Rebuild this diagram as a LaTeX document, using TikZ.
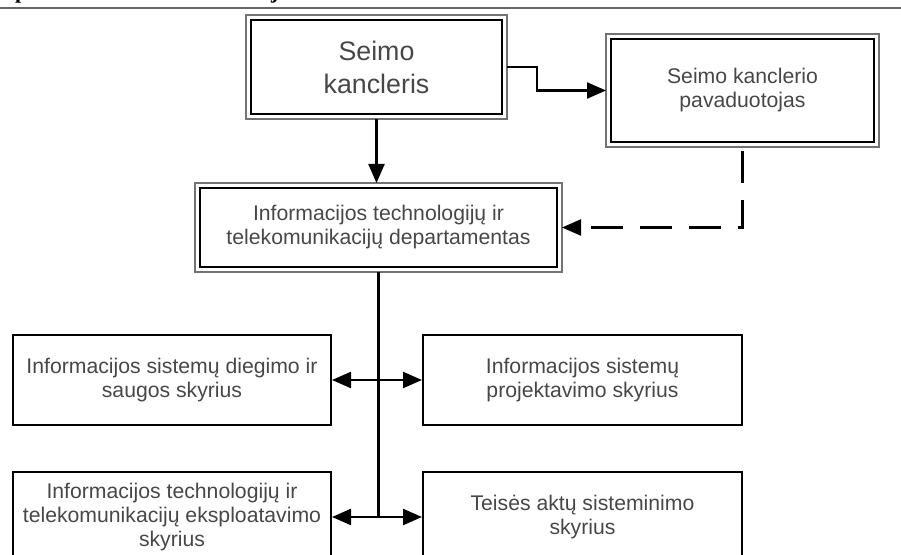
\documentclass[tikz,border=0pt]{standalone}
\usepackage{fontspec}
\setmainfont{Liberation Sans}
\newfontfamily\titrefont{Liberation Serif}
\usetikzlibrary{arrows.meta}
\begin{document}
\begin{tikzpicture}[x=0.5pt,y=-0.5pt, % ------ Seimo kanceliarija ----------------
    boite/.style={draw,line width=1pt,text=black!72,align=center,inner sep=0pt,
      font=\fontsize{10.6}{12}\selectfont},
    cadre/.style={boite,outer sep=2.5pt},
    bord/.style={draw=black!55,line width=1pt},
    fleche/.style={line width=1.1pt,-{Triangle[length=9.5pt,width=8pt]}},
    biflche/.style={line width=1.1pt,{Triangle[length=9.5pt,width=8pt]}-{Triangle[length=9.5pt,width=8pt]}},
    tirets/.style={fleche,dash pattern=on 16pt off 8.5pt,shorten <=2pt}]
    \useasboundingbox (0,0) rectangle (901,555);
    \node [anchor=base west,font=\titrefont\bfseries\fontsize{11}{13}\selectfont] (pv) at (8,-1.5) {pav.};
    \node [anchor=base west,font=\titrefont\bfseries\fontsize{11}{13}\selectfont] (titre) at (107,-1.5) {Seimo kanceliarijos administracinė struktūra};
    \draw [black!60,line width=1.2pt] (0,8) -- (901,8);
    \node [cadre,minimum width=125.5pt,minimum height=47pt,font=\fontsize{13.4}{16.5}\selectfont] (kanc) at (376.5,67) {Seimo\\kancleris};
    \node [cadre,minimum width=131.5pt,minimum height=51.5pt] (pav) at (742.5,90.5) {Seimo kanclerio\\pavaduotojas};
    \node [cadre,minimum width=178.5pt,minimum height=39.5pt] (dep) at (378.5,227.5) {Informacijos technologijų ir\\telekomunikacijų departamentas};
    \foreach \n in {kanc,pav,dep}
      \draw [bord] (\n.north west) rectangle (\n.south east);
    \node [boite,minimum width=159pt,minimum height=45pt] (s1) at (172,380) {Informacijos sistemų diegimo ir\\saugos skyrius};
    \node [boite,minimum width=159.5pt,minimum height=45pt] (s2) at (582.5,380) {Informacijos sistemų\\projektavimo skyrius};
    \node [boite,minimum width=159pt,minimum height=45pt] (s3) at (172,517) {Informacijos technologijų ir\\telekomunikacijų eksploatavimo\\skyrius};
    \node [boite,minimum width=159.5pt,minimum height=45pt] (s4) at (582.5,517) {Teisės aktų sisteminimo\\skyrius};
    \draw [fleche] (kanc.east) -- ++(30,0) |- (pav.west);
    \draw [fleche] (kanc.south) -- (kanc.south |- dep.north);
    \draw [tirets] (pav.south) |- (dep.east);
    \draw [line width=1.1pt] (dep.south) -- (dep.south |- s3.east);
    \draw [biflche] (s1.east) -- (s2.west);
    \draw [biflche] (s3.east) -- (s4.west);
\end{tikzpicture}
\end{document}
